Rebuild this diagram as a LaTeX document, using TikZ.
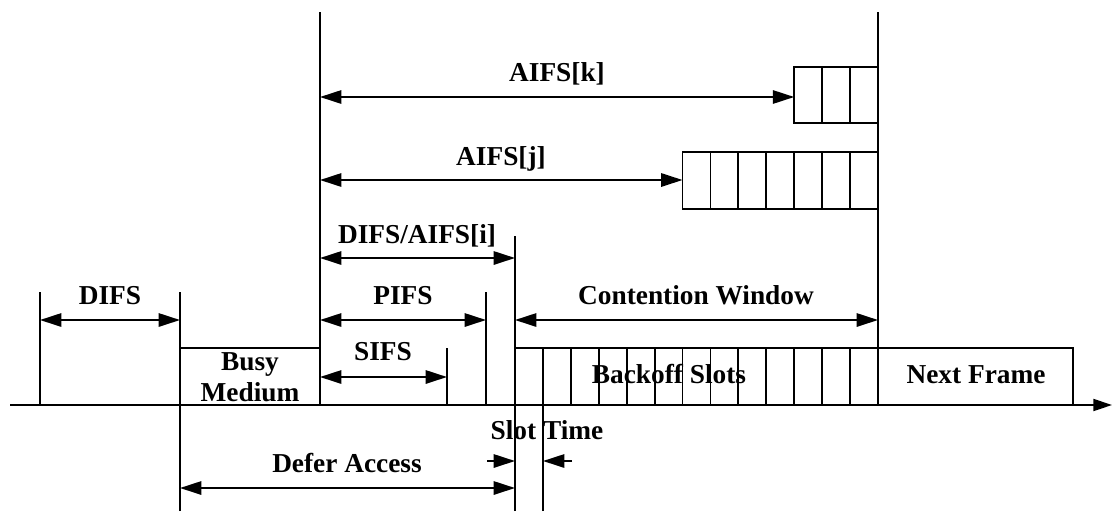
\documentclass[tikz,border=0pt]{standalone}
\usepackage{fontspec}
\setmainfont{Liberation Serif}
\usetikzlibrary{arrows.meta}
\begin{document}
\begin{tikzpicture}[x=0.75pt,y=-0.75pt,
  every path/.style={line width=1.4pt},
  tip/.tip={Triangle[length=16pt,width=10pt]},
  dim/.style={tip-tip},
  half/.style={-tip},
  lbl/.style={font=\fontsize{20.5}{23.25}\selectfont\bfseries,inner sep=0pt,anchor=base}]
\useasboundingbox (0,0) rectangle (1112,511);
\def\sw{27.92}
% time marks on the medium
\coordinate (tA) at (40,405);
\coordinate (tB) at (180,405);
\coordinate (tE) at (320,405);
\coordinate (tS) at (447,405);
\coordinate (tP) at (486,405);
\coordinate (tD) at (515,405);
\coordinate (tT) at (543,405);
\coordinate (tC) at (878,405);
\coordinate (tN) at (1073,405);
% time axis
\coordinate (ax0) at (10,405);
\coordinate (ax1) at (1112,405);
\draw[-{Triangle[length=14pt,width=9pt]}] (ax0) -- (ax1);
% vertical markers
\draw (tA) -- (40,292);
\draw (180,511) -- (180,292);
\draw (tE) -- (320,12);
\draw (tS) -- (447,348);
\draw (tP) -- (486,292);
\draw (515,511) -- (515,236);
\draw (543,511) -- (543,348);
\draw (tC) -- (878,12);
% busy medium
\draw (tB |- 0,348) -- (tE |- 0,348);
\node[lbl,anchor=north,align=center] (busy) at (250,352) {Busy\\Medium};
% backoff slots and next frame
\draw (515,348) -- (1073,348) -- (tN);
\foreach \i in {1,...,12} \draw ({515+\sw*\i},348) -- ({515+\sw*\i},405);
\node[lbl] (bo) at (669,383) {Backoff Slots};
\node[lbl] (nf) at (976,383) {Next Frame};
% AIFS[j] slots
\draw (878,152) -- ({515+\sw*6},152) -- ({515+\sw*6},209) -- (878,209);
\foreach \i in {7,...,12} \draw ({515+\sw*\i},152) -- ({515+\sw*\i},209);
% AIFS[k] slots
\draw (878,67) -- ({515+\sw*10},67) -- ({515+\sw*10},123) -- (878,123);
\foreach \i in {11,12} \draw ({515+\sw*\i},67) -- ({515+\sw*\i},123);
% interval arrows
\coordinate (k0) at (320,97);  \coordinate (k1) at ({515+\sw*10},97);
\coordinate (j0) at (320,180); \coordinate (j1) at ({515+\sw*6},180);
\coordinate (i0) at (320,258); \coordinate (i1) at (515,258);
\coordinate (d0) at (40,320);  \coordinate (d1) at (180,320);
\coordinate (p0) at (320,320); \coordinate (p1) at (486,320);
\coordinate (c0) at (515,320); \coordinate (c1) at (878,320);
\coordinate (s0) at (320,377); \coordinate (s1) at (447,377);
\coordinate (f0) at (180,488); \coordinate (f1) at (515,488);
\coordinate (sl0) at (487,461); \coordinate (sl1) at (515,461);
\coordinate (sr0) at (572,461); \coordinate (sr1) at (543,461);
\draw[dim] (k0) -- (k1);
\draw[dim] (j0) -- (j1);
\draw[dim] (i0) -- (i1);
\draw[dim] (d0) -- (d1);
\draw[dim] (p0) -- (p1);
\draw[dim] (c0) -- (c1);
\draw[dim] (s0) -- (s1);
\draw[dim] (f0) -- (f1);
\draw[half] (sl0) -- (sl1);
\draw[half] (sr0) -- (sr1);
% labels
\node[lbl] (lk) at (557,81) {AIFS[k]};
\node[lbl] (lj) at (501,165) {AIFS[j]};
\node[lbl] (li) at (417,243) {DIFS/AIFS[i]};
\node[lbl] (ld) at (110,304) {DIFS};
\node[lbl] (lp) at (403,304) {PIFS};
\node[lbl] (lc) at (696,304) {Contention Window};
\node[lbl] (ls) at (383,360) {SIFS};
\node[lbl] (lt) at (547,439) {Slot Time};
\node[lbl] (lf) at (347,472) {Defer Access};
\end{tikzpicture}
\end{document}
